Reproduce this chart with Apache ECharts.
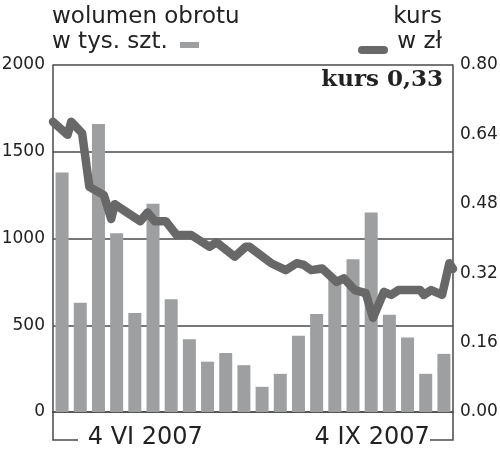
<!DOCTYPE html>
<html>
<head>
<meta charset="utf-8">
<script src="https://cdn.jsdelivr.net/npm/echarts@6/dist/echarts.min.js"></script>
<style>
  html, body { margin: 0; padding: 0; background: #ffffff; }
  #chart { width: 500px; height: 454px; }
</style>
</head>
<body>
<div id="chart"></div>
<script>
// ---- data ----
const weekLabels = ['', '', '', '', '4 VI 2007', '', '', '', '', '', '', '', '', '', '', '', '', '4 IX 2007', '', '', '', ''];
const volume = [1380, 630, 1660, 1030, 570, 1200, 650, 420, 290, 340, 270, 145, 220, 440, 565, 770, 880, 1150, 560, 430, 220, 335];
const lineDays = [0, 4, 5, 8, 10, 14, 16, 17, 20, 24, 26, 28, 31, 34, 38, 43, 45, 50, 53, 54, 60, 64, 67, 69, 71, 74, 78, 80, 83, 86, 88, 91, 93, 95, 101, 102, 104, 107, 109, 110];
const lineValues = [0.669, 0.639, 0.669, 0.643, 0.519, 0.500, 0.445, 0.479, 0.462, 0.440, 0.460, 0.440, 0.440, 0.408, 0.408, 0.381, 0.391, 0.358, 0.381, 0.381, 0.343, 0.327, 0.343, 0.339, 0.327, 0.331, 0.300, 0.308, 0.281, 0.274, 0.217, 0.277, 0.270, 0.281, 0.281, 0.270, 0.281, 0.270, 0.343, 0.330];
const leftTicks = { min: 0, max: 2000, interval: 500 };
const rightTicks = { min: 0, max: 0.8, interval: 0.16 };
const volumeTitle = ['wolumen obrotu', 'w tys. szt.'];
const priceTitle = ['kurs', 'w zł'];

// ---- style ----
const W = 500, H = 454;
const G = { left: 53, right: 47, top: 65, bottom: 42 };
const xR = W - G.right, yB = H - G.bottom;
const barColor = '#9e9fa0';
const lineColor = '#686868';
const axisColor = '#4a4a4a';
const textColor = '#222222';
const font = 'DejaVu Sans';

const linePoints = lineDays.map((d, i) => [d, lineValues[i]]);
const lastVal = lineValues[lineValues.length - 1];

const chart = echarts.init(document.getElementById('chart'), null, { renderer: 'canvas' });
chart.setOption({
  animation: false,
  backgroundColor: '#ffffff',
  grid: { left: G.left, right: G.right, top: G.top, bottom: G.bottom, containLabel: false, outerBoundsMode: 'none' },
  xAxis: [
    {
      type: 'category',
      data: weekLabels,
      axisLine: { show: true, lineStyle: { color: axisColor, width: 1.5 } },
      axisTick: { show: false },
      axisLabel: {
        interval: 0,
        margin: 14,
        fontFamily: font,
        fontSize: 24,
        color: textColor,
        formatter: function (v, i) {
          if (!v) return '';
          return i < 10 ? '{a|' + v + '}' : '{b|' + v + '}';
        },
        rich: {
          a: { fontFamily: font, fontSize: 24, color: textColor, padding: [0, 0, 0, 21] },
          b: { fontFamily: font, fontSize: 24, color: textColor, padding: [0, 0, 0, 2] }
        }
      },
      splitLine: { show: false }
    },
    {
      type: 'value',
      min: 0,
      max: 110,
      show: false
    }
  ],
  yAxis: [
    {
      type: 'value',
      min: leftTicks.min,
      max: leftTicks.max,
      interval: leftTicks.interval,
      axisLine: { show: true, lineStyle: { color: axisColor, width: 1.5 } },
      axisTick: { show: false },
      axisLabel: { margin: 8, fontFamily: font, fontSize: 17, color: textColor, formatter: v => String(v) },
      splitLine: { show: true, lineStyle: { color: axisColor, width: 1.5 } }
    },
    {
      type: 'value',
      position: 'right',
      min: rightTicks.min,
      max: rightTicks.max,
      interval: rightTicks.interval,
      axisLine: { show: true, lineStyle: { color: axisColor, width: 1.5 } },
      axisTick: { show: false },
      axisLabel: {
        margin: 7, fontFamily: font, fontSize: 17, color: textColor,
        formatter: v => v.toFixed(2)
      },
      splitLine: { show: false }
    }
  ],
  series: [
    {
      name: 'wolumen',
      type: 'bar',
      xAxisIndex: 0,
      yAxisIndex: 0,
      data: volume,
      barWidth: 13,
      itemStyle: { color: barColor },
      z: 2
    },
    {
      name: 'kurs',
      type: 'line',
      xAxisIndex: 1,
      yAxisIndex: 1,
      data: linePoints,
      showSymbol: false,
      symbol: 'none',
      lineStyle: { color: lineColor, width: 8.5, cap: 'round', join: 'round' },
      z: 3
    }
  ],
  graphic: [
    // legend / titles
    { type: 'text', left: 52, top: 6, style: { text: volumeTitle[0], font: '23px "' + font + '"', fill: textColor } },
    { type: 'text', left: 52, top: 31, style: { text: volumeTitle[1], font: '23px "' + font + '"', fill: textColor } },
    { type: 'rect', shape: { x: 180, y: 42, width: 19, height: 6 }, style: { fill: barColor } },
    { type: 'text', right: W - 442, top: 6, style: { text: priceTitle[0], font: '23px "' + font + '"', fill: textColor, align: 'right' } },
    { type: 'text', right: W - 442, top: 31, style: { text: priceTitle[1], font: '23px "' + font + '"', fill: textColor, align: 'right' } },
    { type: 'line', shape: { x1: 362, y1: 50, x2: 384, y2: 50 }, style: { stroke: lineColor, lineWidth: 8, lineCap: 'round' } },
    // current price
    { type: 'text', right: W - 443, top: 69, style: { text: 'kurs ' + lastVal.toFixed(2).replace('.', ','), font: 'bold 23px "DejaVu Serif"', fill: textColor, align: 'right' } },
    // bottom brackets
    { type: 'polyline', shape: { points: [[G.left, yB], [G.left, yB + 28], [G.left + 25, yB + 28]] }, style: { stroke: axisColor, lineWidth: 1.5, fill: null } },
    { type: 'polyline', shape: { points: [[xR, yB], [xR, yB + 28], [xR - 23, yB + 28]] }, style: { stroke: axisColor, lineWidth: 1.5, fill: null } }
  ]
});
</script>
</body>
</html>
